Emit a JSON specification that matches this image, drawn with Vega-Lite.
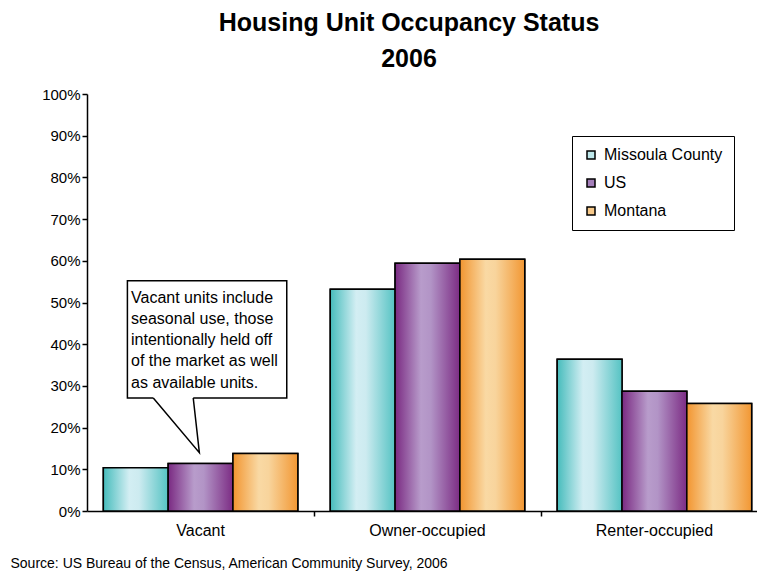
{
  "$schema": "https://vega.github.io/schema/vega-lite/v6.json",
  "width": 670,
  "height": 417,
  "autosize": {"type": "none"},
  "padding": {"left": 87, "top": 94, "right": 0, "bottom": 61},
  "background": "white",
  "config": {"view": {"stroke": null}, "font": "Liberation Sans"},
  "title": {
    "text": ["Housing Unit Occupancy Status", "2006"],
    "fontSize": 25,
    "fontWeight": "bold",
    "font": "Liberation Sans",
    "color": "black",
    "lineHeight": 36,
    "anchor": "middle",
    "dx": -13,
    "offset": 15
  },
  "datasets": {
    "bars": [
      {"cat": "Vacant", "series": "Missoula County", "value": 10.4},
      {"cat": "Vacant", "series": "US", "value": 11.4},
      {"cat": "Vacant", "series": "Montana", "value": 13.8},
      {"cat": "Owner-occupied", "series": "Missoula County", "value": 53.2},
      {"cat": "Owner-occupied", "series": "US", "value": 59.4},
      {"cat": "Owner-occupied", "series": "Montana", "value": 60.4},
      {"cat": "Renter-occupied", "series": "Missoula County", "value": 36.4},
      {"cat": "Renter-occupied", "series": "US", "value": 28.7},
      {"cat": "Renter-occupied", "series": "Montana", "value": 25.8}
    ],
    "box": [{"x1": 0.178, "x2": 0.88, "y1": 27.1, "y2": 55.2}],
    "gap": [{"x1": 0.292, "x2": 0.468, "y1": 27.1}],
    "pointer": [
      {"ord": 1, "px": 0.292, "py": 27.1},
      {"ord": 2, "px": 0.495, "py": 14.0},
      {"ord": 3, "px": 0.468, "py": 27.1}
    ],
    "note": [
      {"tx": 0.194, "ty": 49.8, "line": "Vacant units include"},
      {"tx": 0.194, "ty": 44.8, "line": "seasonal use, those"},
      {"tx": 0.194, "ty": 39.7, "line": "intentionally held off"},
      {"tx": 0.194, "ty": 34.7, "line": "of the market as well"},
      {"tx": 0.194, "ty": 29.6, "line": "as available units."}
    ]
  },
  "resolve": {"scale": {"x": "independent"}, "axis": {"x": "independent"}},
  "layer": [
    {
      "data": {"name": "bars"},
      "encoding": {
        "x": {
          "field": "cat",
          "type": "nominal",
          "sort": null,
          "scale": {"domain": ["Vacant", "Owner-occupied", "Renter-occupied"], "range": [0, 681], "paddingInner": 0.143, "paddingOuter": 0.072},
          "axis": {
            "orient": "bottom",
            "title": "Source: US Bureau of the Census, American Community Survey, 2006",
            "titleFont": "Liberation Sans",
            "titleFontSize": 14,
            "titleFontWeight": "normal",
            "titleColor": "black",
            "titleAnchor": "start",
            "titleAlign": "left",
            "titleBaseline": "alphabetic",
            "titleX": -77,
            "titleY": 56,
            "labelAngle": 0,
            "labelFont": "Liberation Sans",
            "labelFontSize": 16,
            "labelColor": "black",
            "labelPadding": 11,
            "ticks": false,
            "domainColor": "black",
            "domainWidth": 1.5,
            "grid": false
          }
        },
        "xOffset": {"field": "series", "type": "nominal", "sort": null, "scale": {"domain": ["Missoula County", "US", "Montana"], "paddingInner": 0, "paddingOuter": 0}},
        "y": {
          "field": "value",
          "type": "quantitative",
          "scale": {"domain": [0, 100], "nice": false},
          "axis": {
            "title": null,
            "values": [0, 10, 20, 30, 40, 50, 60, 70, 80, 90, 100],
            "labelExpr": "datum.value + '%'",
            "labelFont": "Liberation Sans",
            "labelFontSize": 15,
            "labelColor": "black",
            "labelPadding": 2,
            "tickSize": 5,
            "tickColor": "black",
            "tickWidth": 1.5,
            "domainColor": "black",
            "domainWidth": 1.5,
            "grid": false
          }
        }
      },
      "layer": [
        {
          "mark": {"type": "bar", "stroke": "black", "strokeWidth": 1.5},
          "encoding": {
            "color": {
              "field": "series",
              "type": "nominal",
              "scale": {"domain": ["Missoula County", "US", "Montana"], "range": ["#bfe9ec", "#a47fba", "#f7c98a"]},
              "legend": {
                "title": null,
                "orient": "none",
                "legendX": 485,
                "legendY": 42,
                "strokeColor": "black",
                "fillColor": "white",
                "padding": 11,
                "symbolType": "square",
                "symbolSize": 64,
                "symbolStrokeColor": "black",
                "symbolStrokeWidth": 1.5,
                "labelFont": "Liberation Sans",
                "labelFontSize": 16,
                "labelColor": "black",
                "labelOffset": 5,
                "rowPadding": 12
              }
            }
          }
        },
        {
          "transform": [{"filter": "datum.series == 'Missoula County'"}],
          "mark": {"type": "bar", "stroke": "black", "strokeWidth": 1.5,
            "fill": {"gradient": "linear", "x1": 0, "x2": 1, "y1": 0, "y2": 0,
              "stops": [{"offset": 0, "color": "#46bcbc"}, {"offset": 0.4, "color": "#d3eef3"}, {"offset": 0.55, "color": "#cdebf0"}, {"offset": 1, "color": "#55c3c3"}]}}
        },
        {
          "transform": [{"filter": "datum.series == 'US'"}],
          "mark": {"type": "bar", "stroke": "black", "strokeWidth": 1.5,
            "fill": {"gradient": "linear", "x1": 0, "x2": 1, "y1": 0, "y2": 0,
              "stops": [{"offset": 0, "color": "#7a2a82"}, {"offset": 0.4, "color": "#b89ccb"}, {"offset": 0.55, "color": "#b294c6"}, {"offset": 1, "color": "#7c2c84"}]}}
        },
        {
          "transform": [{"filter": "datum.series == 'Montana'"}],
          "mark": {"type": "bar", "stroke": "black", "strokeWidth": 1.5,
            "fill": {"gradient": "linear", "x1": 0, "x2": 1, "y1": 0, "y2": 0,
              "stops": [{"offset": 0, "color": "#f29530"}, {"offset": 0.4, "color": "#f9d9a4"}, {"offset": 0.55, "color": "#f8d49c"}, {"offset": 1, "color": "#f29733"}]}}
        }
      ]
    },
    {
      "layer": [
        {
          "data": {"name": "box"},
          "mark": {"type": "rect", "fill": "white", "stroke": "black", "strokeWidth": 1.5},
          "encoding": {
            "x": {"field": "x1", "type": "quantitative", "scale": {"domain": [0, 3], "range": [0, 681], "nice": false, "zero": false},
              "axis": {"orient": "bottom", "values": [1, 2], "labels": false, "title": null, "domain": false, "grid": false, "ticks": true, "tickSize": 5, "tickColor": "black", "tickWidth": 1.5}},
            "x2": {"field": "x2"},
            "y": {"field": "y1", "type": "quantitative"},
            "y2": {"field": "y2"}
          }
        },
        {
          "data": {"name": "gap"},
          "mark": {"type": "rule", "stroke": "white", "strokeWidth": 3},
          "encoding": {
            "x": {"field": "x1", "type": "quantitative",
              "axis": {"orient": "bottom", "values": [1, 2], "labels": false, "title": null, "domain": false, "grid": false, "ticks": true, "tickSize": 5, "tickColor": "black", "tickWidth": 1.5}},
            "x2": {"field": "x2"},
            "y": {"field": "y1", "type": "quantitative"}
          }
        },
        {
          "data": {"name": "pointer"},
          "mark": {"type": "line", "stroke": "black", "strokeWidth": 1.5},
          "encoding": {
            "x": {"field": "px", "type": "quantitative",
              "axis": {"orient": "bottom", "values": [1, 2], "labels": false, "title": null, "domain": false, "grid": false, "ticks": true, "tickSize": 5, "tickColor": "black", "tickWidth": 1.5}},
            "y": {"field": "py", "type": "quantitative"},
            "order": {"field": "ord", "type": "quantitative"}
          }
        },
        {
          "data": {"name": "note"},
          "mark": {"type": "text", "align": "left", "baseline": "alphabetic", "font": "Liberation Sans", "fontSize": 16, "color": "black"},
          "encoding": {
            "x": {"field": "tx", "type": "quantitative",
              "axis": {"orient": "bottom", "values": [1, 2], "labels": false, "title": null, "domain": false, "grid": false, "ticks": true, "tickSize": 5, "tickColor": "black", "tickWidth": 1.5}},
            "y": {"field": "ty", "type": "quantitative"},
            "text": {"field": "line"}
          }
        }
      ]
    }
  ]
}
